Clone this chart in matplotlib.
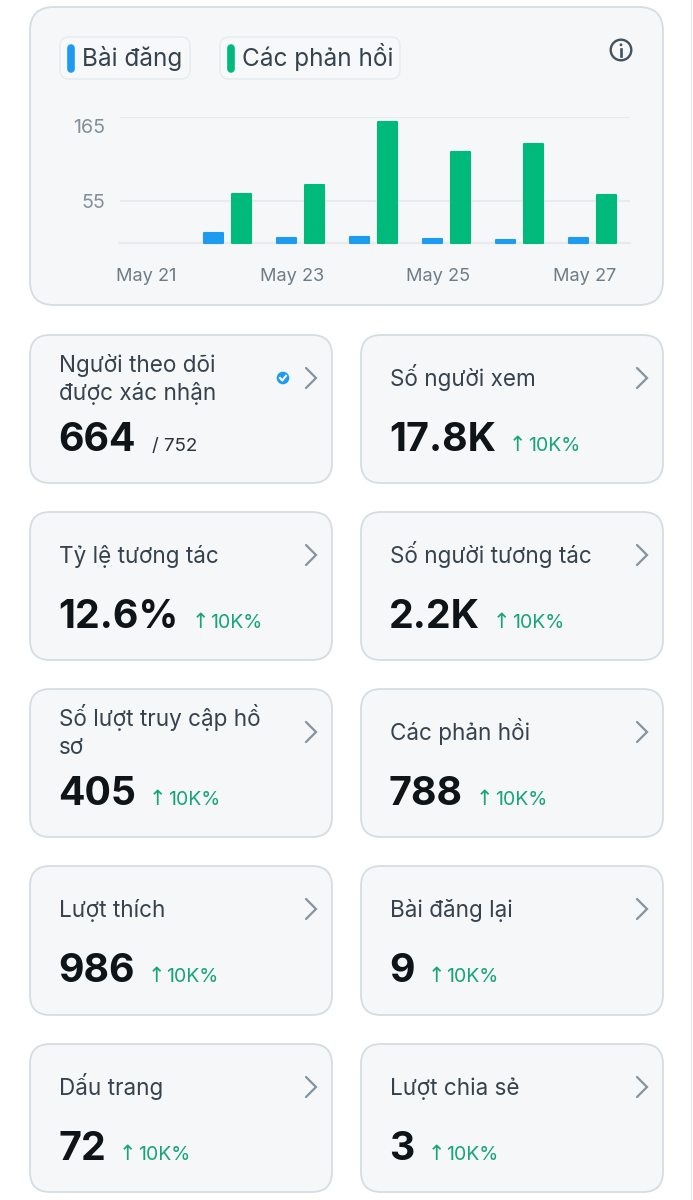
import matplotlib
matplotlib.use("Agg")
import matplotlib.pyplot as plt
from matplotlib.patches import FancyBboxPatch, Circle, Rectangle
from matplotlib.transforms import ScaledTranslation
import numpy as np

W, H = 693, 1200
plt.rcParams['font.family'] = ['Inter', 'Noto Sans', 'DejaVu Sans']

# ---- data ----
days = ['May 21', 'May 22', 'May 23', 'May 24', 'May 25', 'May 26', 'May 27']
posts = [0, 13, 6.5, 8, 5, 4, 6.5]
replies = [0, 64, 76, 158, 119, 130, 63]
y_ticks = [55, 165]
legend_labels = ['Bài đăng', 'Các phản hồi']
card_titles = ['Người theo dõi\nđược xác nhận', 'Số người xem',
               'Tỷ lệ tương tác', 'Số người tương tác',
               'Số lượt truy cập hồ\nsơ', 'Các phản hồi',
               'Lượt thích', 'Bài đăng lại',
               'Dấu trang', 'Lượt chia sẻ']
card_values = ['664', '17.8K', '12.6%', '2.2K', '405', '788', '986', '9', '72', '3']
card_deltas = ['/ 752', '10K%', '10K%', '10K%', '10K%', '10K%', '10K%', '10K%', '10K%', '10K%']

BLUE, GREEN = '#1d9bf0', '#00ba7c'
CARD, EDGE = '#f5f7f8', '#d6dde2'
INK, TITLE, GREY = '#0f1419', '#36424d', '#6f7c87'
DELTA = '#17a673'
GRID = '#e7ebee'

fig = plt.figure(figsize=(W / 100, H / 100), dpi=100, facecolor='white')
bg = fig.add_axes([0, 0, 1, 1])
bg.set_xlim(0, W)
bg.set_ylim(H, 0)
bg.axis('off')


def card(x0, y0, x1, y1, r=20):
    bg.add_patch(FancyBboxPatch((x0 + r, y0 + r), x1 - x0 - 2 * r, y1 - y0 - 2 * r,
                                boxstyle=f'round,pad={r},rounding_size={r}',
                                fc=CARD, ec=EDGE, lw=1.3))


def chevron(x, y):
    bg.plot([x - 5, x + 5, x - 5], [y - 10, y, y + 10], color='#8494a1', lw=1.6,
            solid_capstyle='round', solid_joinstyle='miter')


# ---- top panel ----
card(30, 7, 663, 305, r=24)
for (x0, x1), lab, col in zip([(60, 190), (220, 400)], legend_labels, [BLUE, GREEN]):
    bg.add_patch(FancyBboxPatch((x0 + 9, 46), x1 - x0 - 18, 24,
                                boxstyle='round,pad=9,rounding_size=9',
                                fc='#f6f8f9', ec='#e8ecef', lw=1.1))
    bg.plot([x0 + 11, x0 + 11], [48, 69], color=col, lw=5.5, solid_capstyle='round')
    bg.text(x0 + 22, 66, lab, fontsize=17.5, color=TITLE, va='baseline', ha='left')

# info icon
bg.add_patch(Circle((621, 50), 10.3, fc='none', ec='#44525e', lw=1.7))
bg.plot([621, 621], [49, 56], color='#44525e', lw=1.9)
bg.add_patch(Circle((621, 44.8), 1.4, fc='#44525e', ec='none'))

# ---- bar chart ----
px_l, px_r, px_base, px_top = 120, 630, 243, 117
ax = fig.add_axes([px_l / W, 1 - px_base / H, (px_r - px_l) / W, (px_base - px_top) / H])
ax.patch.set_alpha(0)
ax.set_ylim(0, 165)
# one day spans 73 px; first group centre lies at x=154.5 px
ax.set_xlim(-(154.5 - px_l) / 73, (px_r - 154.5) / 73)
x = np.arange(len(days))
off = 14 / 73
bw = 19.5 / 73
style = dict(linewidth=1.5, joinstyle='round', zorder=3, clip_on=False)
for xi, p, r in zip(x, posts, replies):
    if p:
        ax.bar(xi - off, p, bw, color=BLUE, edgecolor=BLUE, **style)
    if r:
        ax.bar(xi + off, r, bw, color=GREEN, edgecolor=GREEN, **style)
for s in ax.spines.values():
    s.set_visible(False)
ax.axhline(0, color=GRID, lw=1.6, zorder=1, clip_on=False)
ax.set_yticks(y_ticks)
ax.set_yticklabels(y_ticks, fontsize=14.2, color='#83909b')
ax.yaxis.grid(True, color=GRID, lw=1.5, zorder=1)
ax.tick_params(axis='y', length=0, pad=11)
# the reference's upper label sits below its gridline
nudges = {55: -2, 165: -11}
for tick_val, lab in zip(y_ticks, ax.get_yticklabels()):
    lab.set_va('center')
    lab.set_transform(lab.get_transform() +
                      ScaledTranslation(0, nudges[tick_val] / 100, fig.dpi_scale_trans))
ax.set_xticks(x[::2] - 8 / 73)
ax.set_xticklabels(days[::2], fontsize=13.1, color=GREY)
ax.tick_params(axis='x', length=0, pad=18)
ax.set_axisbelow(True)

# ---- metric cards ----
cols = [(30, 332), (361, 663)]
rows = [(335, 483), (512, 660), (689, 837), (866, 1015), (1044, 1192)]
renderer = fig.canvas.get_renderer()
for i, (title, val, delta) in enumerate(zip(card_titles, card_values, card_deltas)):
    x0, x1 = cols[i % 2]
    y0, y1 = rows[i // 2]
    card(x0, y0, x1, y1)
    tx = x0 + 29
    if '\n' in title:
        l1, l2 = title.split('\n')
        bg.text(tx, y0 + 37, l1, fontsize=16.2, color=TITLE, va='baseline')
        bg.text(tx, y0 + 65, l2, fontsize=16.2, color=TITLE, va='baseline')
    else:
        bg.text(tx, y0 + 51, title, fontsize=16.2, color=TITLE, va='baseline')
    base = y0 + 116
    t = bg.text(tx - 1, base, val, fontsize=28.3, fontweight='bold', color=INK, va='baseline')
    xe = t.get_window_extent(renderer).x1
    if delta.startswith('/'):
        bg.text(xe + 17, base, delta, fontsize=13.5, color='#2a333b', va='baseline')
    else:
        bg.text(xe + 13, base, '↑', fontsize=15, color=DELTA, va='baseline',
                family=['DejaVu Sans'])
        bg.text(xe + 32, base, delta, fontsize=14, color=DELTA, va='baseline')
    chevron(x1 - 21, y0 + 43)

# verified badge
bg.add_patch(Circle((283, 378), 6.3, fc=BLUE, ec='none'))
bg.plot([280, 282.3, 286], [378, 380.5, 375.8], color='white', lw=1.5)

# right-hand screen edge
bg.add_patch(Rectangle((691, 0), 1.2, H, fc='#e3e6e8', ec='none'))

fig.savefig('out.png', dpi=100, facecolor='white')
